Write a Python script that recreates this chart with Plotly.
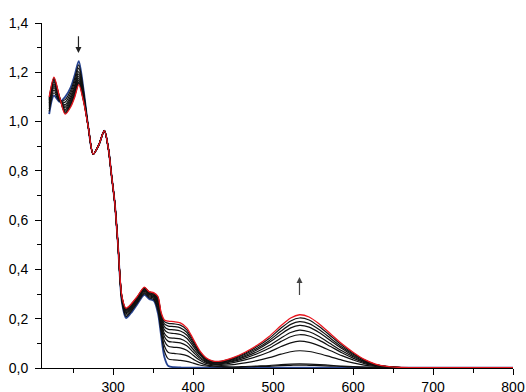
import plotly.graph_objects as go

# Wavelength grids (nm)
W_UV = [220, 226, 233, 240, 247, 252, 257, 263]
W_MID = [269, 275, 282, 289, 294, 298, 302, 306]
W_TAIL = [311, 316, 322, 330, 339, 345, 351, 356, 360, 364,
          369, 376, 384, 392, 400, 408, 416, 425, 435, 450,
          465, 480, 495, 510, 522, 533, 545, 558, 572, 586,
          600, 614, 628, 642, 660, 700, 800]

# Section where all spectra coincide
MID = [0.975, 0.868, 0.905, 0.963, 0.89, 0.78, 0.67, 0.50]

# Initial spectrum (blue)
s0_uv = [1.03, 1.105, 1.08, 1.10, 1.14, 1.19, 1.245, 1.13]
s0_tail = [0.265, 0.203, 0.222, 0.258, 0.297, 0.28, 0.272, 0.222, 0.13, 0.045,
           0.008, 0.003, 0.002, 0.001, 0.001, 0.001, 0.001, 0.001, 0.001, 0.001,
           0.001, 0.001, 0.001, 0.001, 0.001, 0.001, 0.001, 0.001, 0.001, 0.001,
           0.001, 0.001, 0.001, 0.001, 0.001, 0.001, 0.001]

# Intermediate spectra (black)
s1_uv = [1.041, 1.117, 1.083, 1.089, 1.127, 1.176, 1.230, 1.122]
s1_tail = [.269, .209, .228, .263, .302, .285, .277, .233, .145, .069,
           .037, .033, .031, .027, .020, .012, .008, .005, .004, .003,
           .004, .006, .007, .010, .011, .012, .011, .010, .008, .006,
           .004, .003, .002, .001, .001, .001, .001]
s2_uv = [1.051, 1.128, 1.086, 1.079, 1.116, 1.163, 1.217, 1.115]
s2_tail = [.273, .215, .233, .268, .306, .289, .282, .242, .159, .090,
           .063, .059, .056, .050, .036, .022, .013, .009, .006, .004,
           .006, .008, .010, .014, .016, .017, .016, .014, .011, .008,
           .006, .004, .002, .001, .001, .001, .001]
s3_uv = [1.061, 1.138, 1.089, 1.069, 1.105, 1.150, 1.203, 1.108]
s3_tail = [.276, .221, .238, .272, .311, .293, .287, .252, .172, .111,
           .088, .084, .082, .072, .052, .032, .019, .013, .011, .014,
           .021, .030, .042, .056, .066, .070, .067, .058, .045, .032,
           .021, .012, .006, .003, .002, .001, .001]
s4_uv = [1.069, 1.146, 1.091, 1.062, 1.096, 1.141, 1.193, 1.103]
s4_tail = [.279, .225, .242, .276, .314, .297, .290, .259, .182, .128,
           .108, .105, .102, .090, .065, .040, .024, .016, .015, .022,
           .033, .047, .065, .087, .102, .109, .104, .090, .070, .050,
           .033, .018, .009, .004, .002, .001, .001]
s5_uv = [1.075, 1.153, 1.093, 1.055, 1.089, 1.132, 1.184, 1.098]
s5_tail = [.281, .229, .245, .278, .317, .299, .293, .266, .191, .141,
           .124, .121, .118, .105, .076, .046, .027, .018, .018, .027,
           .040, .058, .080, .108, .127, .135, .130, .112, .087, .062,
           .040, .022, .010, .005, .002, .001, .001]
s6_uv = [1.082, 1.161, 1.095, 1.048, 1.081, 1.123, 1.175, 1.093]
s6_tail = [.284, .233, .249, .282, .320, .302, .296, .272, .200, .156,
           .143, .140, .136, .121, .088, .054, .031, .021, .021, .030,
           .046, .066, .091, .122, .144, .154, .147, .127, .098, .070,
           .046, .025, .012, .005, .002, .001, .001]
s7_uv = [1.087, 1.167, 1.096, 1.043, 1.074, 1.116, 1.167, 1.089]
s7_tail = [.286, .236, .252, .284, .322, .305, .299, .278, .208, .168,
           .157, .155, .150, .134, .097, .059, .035, .023, .023, .034,
           .051, .074, .103, .138, .163, .173, .166, .143, .111, .079,
           .051, .028, .013, .006, .002, .001, .001]
s8_uv = [1.092, 1.172, 1.098, 1.038, 1.069, 1.110, 1.160, 1.086]
s8_tail = [.287, .239, .254, .286, .325, .307, .301, .283, .215, .179,
           .170, .168, .163, .145, .105, .064, .037, .025, .025, .037,
           .056, .080, .111, .150, .177, .188, .180, .155, .120, .085,
           .056, .031, .014, .006, .002, .001, .001]
s9_uv = [1.097, 1.176, 1.099, 1.034, 1.064, 1.105, 1.155, 1.083]
s9_tail = [.289, .241, .256, .288, .326, .309, .303, .287, .220, .188,
           .181, .179, .174, .155, .112, .068, .040, .027, .027, .040,
           .060, .087, .120, .162, .191, .203, .195, .167, .130, .092,
           .060, .033, .014, .007, .002, .001, .001]

# Final spectrum (red)
s10_uv = [1.10, 1.18, 1.10, 1.03, 1.06, 1.10, 1.15, 1.08]
s10_tail = [.29, .243, .258, .29, .328, .31, .305, .29, .225, .195,
            .19, .188, .183, .163, .118, .072, .042, .028, .028, .042,
            .064, .092, .128, .172, .203, .216, .207, .178, .138, .098,
            .064, .035, .016, .007, .002, .001, .001]

# Axis ticks
X_TICKS = [300, 400, 500, 600, 700, 800]
X_MINOR = [250, 350, 450, 550, 650, 750]
Y_TICKS = [0.0, 0.2, 0.4, 0.6, 0.8, 1.0, 1.2, 1.4]
Y_MINOR = [0.1, 0.3, 0.5, 0.7, 0.9, 1.1, 1.3]

BLUE = "#25428f"
BLACK = "#111111"
RED = "#e8161e"

series = [
    (s0_uv, s0_tail, BLUE, 1.8),
    (s1_uv, s1_tail, BLACK, 1.2),
    (s2_uv, s2_tail, BLACK, 1.2),
    (s3_uv, s3_tail, BLACK, 1.2),
    (s4_uv, s4_tail, BLACK, 1.2),
    (s5_uv, s5_tail, BLACK, 1.2),
    (s6_uv, s6_tail, BLACK, 1.2),
    (s7_uv, s7_tail, BLACK, 1.2),
    (s8_uv, s8_tail, BLACK, 1.2),
    (s9_uv, s9_tail, BLACK, 1.2),
    (s10_uv, s10_tail, RED, 1.3),
]

fig = go.Figure()
xs = W_UV + W_MID + W_TAIL
for uv, tail, color, width in series:
    fig.add_trace(go.Scatter(
        x=xs, y=uv + MID + tail, mode="lines",
        line=dict(color=color, width=width, shape="spline", smoothing=0.8),
        hoverinfo="skip",
    ))

# arrows showing direction of change
fig.add_annotation(x=256.6, y=1.278, ax=256.6, ay=1.352, xref="x", yref="y",
                   axref="x", ayref="y", text="", showarrow=True,
                   arrowhead=2, arrowsize=1, arrowwidth=1.2, arrowcolor="#222")
fig.add_annotation(x=533, y=0.369, ax=533, ay=0.29, xref="x", yref="y",
                   axref="x", ayref="y", text="", showarrow=True,
                   arrowhead=2, arrowsize=1, arrowwidth=1.2, arrowcolor="#444")

axis_common = dict(
    ticks="outside", ticklen=6, tickwidth=1, tickcolor="black",
    showline=True, linecolor="black", linewidth=1,
    showgrid=False, zeroline=False, automargin=False,
)
fig.update_xaxes(range=[211, 800], tickvals=X_TICKS,
                 minor=dict(tickvals=X_MINOR, ticks="outside", ticklen=4,
                            tickcolor="black", showgrid=False),
                 **axis_common)
fig.update_yaxes(range=[0, 1.4], tickvals=Y_TICKS, tickformat=".1f",
                 ticklabelstandoff=4,
                 minor=dict(tickvals=Y_MINOR, ticks="outside", ticklen=4,
                            tickcolor="black", showgrid=False),
                 **axis_common)

fig.update_layout(
    width=526, height=392,
    margin=dict(l=42, r=13, t=23, b=24),
    paper_bgcolor="white", plot_bgcolor="white",
    showlegend=False, separators=",.",
    font=dict(family="Liberation Sans, Arial, sans-serif", size=14, color="black"),
)

# remove the browser's default 8px body margin so the figure fills the window
fig.write_html(
    "out.html",
    config={"displayModeBar": False},
    post_script="document.body.style.margin='0px';document.body.style.overflow='hidden';",
)
